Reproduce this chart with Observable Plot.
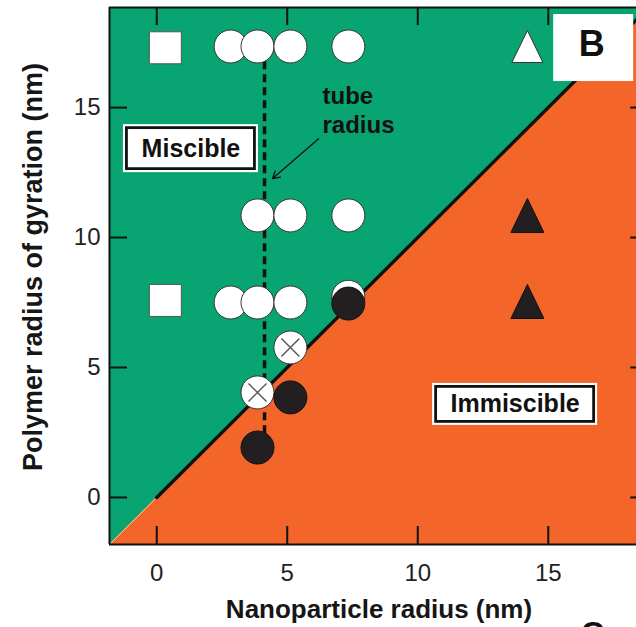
<!DOCTYPE html>
<html>
<head>
<meta charset="utf-8">
<script src="https://cdn.jsdelivr.net/npm/d3@7"></script>
<script src="https://cdn.jsdelivr.net/npm/@observablehq/plot@0.6"></script>
<style>
  html, body { margin: 0; padding: 0; background: #fff; overflow: hidden; }
</style>
</head>
<body>
<div id="chart"></div>
<script>
// ---- data ----
const xTicks = [0, 5, 10, 15];
const yTicks = [0, 5, 10, 15];
const xLabel = "Nanoparticle radius (nm)";
const yLabel = "Polymer radius of gyration (nm)";

// miscible / immiscible boundary: y = x
const boundaryX = [-1.81, 18.85];
const boundaryLineX = [0, 18.85];

const openCircles = [
  [2.83, 17.35], [3.86, 17.35], [5.12, 17.35], [7.34, 17.35],
  [3.86, 10.85], [5.12, 10.85], [7.34, 10.85],
  [7.34, 7.72],
  [2.83, 7.5], [3.86, 7.5], [5.12, 7.5]
];
const crossedCircles = [[5.12, 5.77], [3.86, 4.04]];
const filledCircles = [[7.34, 7.46], [5.12, 3.85], [3.86, 1.92]];
const openSquares = [[0.33, 17.3], [0.33, 7.58]];
const openTriangles = [[14.2, 17.35]];
const filledTriangles = [[14.2, 10.85], [14.2, 7.54]];

const tubeRadiusX = 4.13;
const tubeRange = [2.45, 17.3];
const tubeText = [["tube", 6.35, 15.15], ["radius", 6.35, 14.04]];
const tubeArrow = [[6.2, 13.8, 4.44, 12.27]];

const regionLabels = [["Miscible", 1.31, 13.42], ["Immiscible", 13.73, 3.58]];
const panelLabel = [["B", 16.74, 17.29]];

// ---- layout / style ----
const W = 636, H = 627;
const mL = 109, mT = 7, mB = 83, mR = 0;
const xDomain = [-1.81, 18.38];
const yDomain = [-1.81, 18.85];
const xRightBorder = 18.85;
const pxX = (W - mL - mR) / (xDomain[1] - xDomain[0]);
const pxY = (H - mT - mB) / (yDomain[1] - yDomain[0]);
const tickLen = 18;
const GREEN = "#08a472";
const ORANGE = "#f4652a";
const INK = "#161616";
const FONT = "Liberation Sans, Arial, Helvetica, sans-serif";

const symTri = {draw(ctx, size) {
  const r = Math.sqrt(size / Math.PI);
  ctx.moveTo(0, -r); ctx.lineTo(r * 0.97, r); ctx.lineTo(-r * 0.97, r); ctx.closePath();
}};
const symSquare = {draw(ctx, size) {
  const r = Math.sqrt(size / Math.PI);
  ctx.rect(-r, -r, 2 * r, 2 * r);
}};
const symCross = {draw(ctx, size) {
  const r = Math.sqrt(size / Math.PI);
  ctx.moveTo(-r, -r); ctx.lineTo(r, r); ctx.moveTo(r, -r); ctx.lineTo(-r, r);
}};

const boxSize = {Miscible: [135, 48], Immiscible: [165, 42]};
const bBox = [80, 67];

const px = (d, dpx) => d + dpx / pxX;
const py = (d, dpx) => d + dpx / pxY;

const chart = Plot.plot({
  width: W, height: H,
  marginLeft: mL, marginRight: mR, marginTop: mT, marginBottom: mB,
  x: {domain: xDomain, axis: null},
  y: {domain: yDomain, axis: null},
  style: {fontFamily: FONT, fontSize: "24px", color: INK, background: "white"},
  marks: [
    Plot.frame({fill: GREEN, stroke: null}),
    Plot.areaY(boundaryX, {x: d => d, y1: yDomain[0], y2: d => d, fill: ORANGE, clip: true}),
    Plot.line(boundaryX, {x: d => d, y: d => d, stroke: "#e9d9a0", strokeWidth: 1, clip: true}),
    Plot.line(boundaryLineX, {x: d => d, y: d => d, stroke: "#111", strokeWidth: 3.4, clip: true}),

    // frame borders
    Plot.ruleY([yDomain[1]], {stroke: "#111", strokeWidth: 2}),
    Plot.ruleY([yDomain[0]], {stroke: "#111", strokeWidth: 2}),
    Plot.ruleX([xDomain[0]], {stroke: "#111", strokeWidth: 2}),

    // inward ticks
    Plot.ruleX(xTicks, {x: d => d, y1: yDomain[0], y2: py(yDomain[0], tickLen), stroke: "#111", strokeWidth: 2}),
    Plot.ruleX(xTicks, {x: d => d, y1: py(yDomain[1], -tickLen), y2: yDomain[1], stroke: "#111", strokeWidth: 2}),
    Plot.ruleY(yTicks, {y: d => d, x1: xDomain[0], x2: px(xDomain[0], tickLen), stroke: "#111", strokeWidth: 2}),
    Plot.ruleY(yTicks, {y: d => d, x1: px(xRightBorder, -tickLen), x2: xRightBorder, stroke: "#111", strokeWidth: 2, clip: true}),

    // tick labels
    Plot.axisX(xTicks, {anchor: "bottom", tickSize: 0, tickPadding: 19, fontSize: 24, label: null, fill: "#222"}),
    Plot.axisY(yTicks, {anchor: "left", tickSize: 0, tickPadding: 9, fontSize: 24, label: null, fill: "#222"}),

    // axis titles
    Plot.text([xLabel], {frameAnchor: "bottom", textAnchor: "middle", dx: 6, dy: 65, lineAnchor: "middle", fontWeight: "bold", fontSize: 26, fill: INK}),
    Plot.text([yLabel], {frameAnchor: "left", textAnchor: "middle", rotate: -90, dx: -76, dy: -9, lineAnchor: "middle", fontWeight: "bold", fontSize: 27, fill: INK}),

    // tube radius dashed line
    Plot.ruleX([tubeRadiusX], {y1: tubeRange[0], y2: tubeRange[1], stroke: "#111", strokeWidth: 3.5, strokeDasharray: "8,5"}),

    // markers
    Plot.dot(openCircles, {x: d => d[0], y: d => d[1], r: 16.5, fill: "white", stroke: "#333", strokeWidth: 1}),
    Plot.dot(crossedCircles, {x: d => d[0], y: d => d[1], r: 16.5, fill: "white", stroke: "#333", strokeWidth: 1}),
    Plot.dot(crossedCircles, {x: d => d[0], y: d => d[1], r: 9, symbol: symCross, fill: "none", stroke: "#555", strokeWidth: 1.4}),
    Plot.dot(filledCircles, {x: d => d[0], y: d => d[1], r: 16.5, fill: "#231f20", stroke: "#111", strokeWidth: 1}),
    Plot.dot(openSquares, {x: d => d[0], y: d => d[1], r: 16, symbol: symSquare, fill: "white", stroke: "#555", strokeWidth: 1}),
    Plot.dot(openTriangles, {x: d => d[0], y: d => d[1], r: 16, symbol: symTri, fill: "white", stroke: "#333", strokeWidth: 1}),
    Plot.dot(filledTriangles, {x: d => d[0], y: d => d[1], r: 17, symbol: symTri, fill: "#231f20", stroke: "#111", strokeWidth: 1}),

    // tube radius annotation
    Plot.text(tubeText, {x: d => d[1], y: d => d[2], text: d => d[0], textAnchor: "start", lineAnchor: "bottom", fontWeight: "bold", fontSize: 24, fill: "#111"}),
    Plot.arrow(tubeArrow, {x1: d => d[0], y1: d => d[1], x2: d => d[2], y2: d => d[3], stroke: "#111", strokeWidth: 1.3, headLength: 9}),

    // region label boxes
    Plot.rect(regionLabels, {
      x1: d => px(d[1], -boxSize[d[0]][0] / 2), x2: d => px(d[1], boxSize[d[0]][0] / 2),
      y1: d => py(d[2], -boxSize[d[0]][1] / 2), y2: d => py(d[2], boxSize[d[0]][1] / 2),
      fill: "white"
    }),
    Plot.rect(regionLabels, {
      x1: d => px(d[1], -boxSize[d[0]][0] / 2 + 3.5), x2: d => px(d[1], boxSize[d[0]][0] / 2 - 3.5),
      y1: d => py(d[2], -boxSize[d[0]][1] / 2 + 3.5), y2: d => py(d[2], boxSize[d[0]][1] / 2 - 3.5),
      fill: "none", stroke: "#111", strokeWidth: 2.8
    }),
    Plot.text(regionLabels, {x: d => d[1], y: d => d[2], text: d => d[0], lineAnchor: "middle", fontWeight: "bold", fontSize: 25, fill: "#111"}),

    // panel label
    Plot.rect(panelLabel, {
      x1: d => px(d[1], -bBox[0] / 2), x2: d => px(d[1], bBox[0] / 2),
      y1: d => py(d[2], -bBox[1] / 2), y2: d => py(d[2], bBox[1] / 2),
      fill: "white"
    }),
    Plot.text(panelLabel, {x: d => d[1], y: d => d[2], text: d => d[0], dx: -2, dy: -4, lineAnchor: "middle", fontWeight: "bold", fontSize: 36, fill: "#111"}),

    // next panel label, cut off at the bottom
    Plot.text(["C"], {frameAnchor: "bottom-right", dx: -44, dy: 99, textAnchor: "middle", lineAnchor: "bottom", fontWeight: "bold", fontSize: 32, fill: "#111"})
  ]
});
document.getElementById("chart").appendChild(chart);
</script>
</body>
</html>
